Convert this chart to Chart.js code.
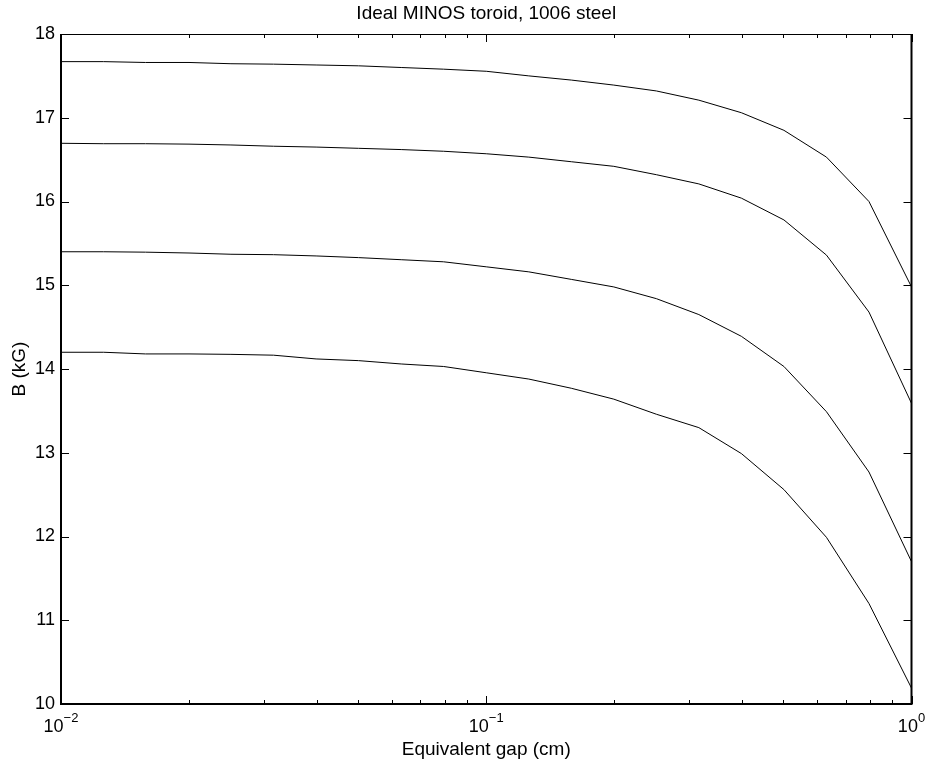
<!DOCTYPE html>
<html>
<head>
<meta charset="utf-8">
<title>Ideal MINOS toroid, 1006 steel</title>
<script src="https://cdn.jsdelivr.net/npm/chart.js@4.4.1/dist/chart.umd.min.js"></script>
<style>
  html, body { margin: 0; padding: 0; background: #fff; }
</style>
</head>
<body>
<canvas id="chart" width="927" height="763"></canvas>
<script>
/* ======================
   DATA
====================== */
const gap = [0.01, 0.0126, 0.0158, 0.02, 0.0251, 0.0316, 0.0398, 0.0501, 0.0631, 0.0794,
  0.1, 0.1259, 0.1585, 0.1995, 0.2512, 0.3162, 0.3981, 0.5012, 0.631, 0.7943, 1];

const curve1 = [17.67, 17.67, 17.66, 17.66, 17.645, 17.64, 17.63, 17.62, 17.6, 17.58,
  17.555, 17.5, 17.45, 17.39, 17.32, 17.21, 17.06, 16.85, 16.53, 16.0, 14.98];
const curve2 = [16.695, 16.69, 16.69, 16.685, 16.675, 16.66, 16.65, 16.635, 16.62, 16.6,
  16.57, 16.53, 16.475, 16.42, 16.32, 16.21, 16.04, 15.78, 15.36, 14.68, 13.59];
const curve3 = [15.4, 15.4, 15.395, 15.385, 15.37, 15.365, 15.35, 15.33, 15.305, 15.28,
  15.22, 15.16, 15.07, 14.98, 14.84, 14.65, 14.39, 14.03, 13.49, 12.77, 11.7];
const curve4 = [14.2, 14.2, 14.18, 14.18, 14.175, 14.165, 14.12, 14.1, 14.06, 14.03,
  13.955, 13.88, 13.77, 13.64, 13.46, 13.3, 12.99, 12.56, 11.99, 11.2, 10.19];

const yTicks = [10, 11, 12, 13, 14, 15, 16, 17, 18];
const xMajorTicks = [0.01, 0.1, 1];
const xTickBase = ["10", "10", "10"];
const xTickExp = ["\u22122", "\u22121", "0"];
const xMinorTicks = [0.02, 0.03, 0.04, 0.05, 0.06, 0.07, 0.08, 0.09,
  0.2, 0.3, 0.4, 0.5, 0.6, 0.7, 0.8, 0.9];

const FONT = "'Liberation Sans', Arial, Helvetica, sans-serif";

function toPoints(values) {
  return gap.map((g, i) => ({ x: g, y: values[i] }));
}

function lineSet(values) {
  return {
    data: toPoints(values),
    borderColor: "#000",
    borderWidth: 1,
    pointRadius: 0,
    fill: false,
    tension: 0,
  };
}

/* ======================
   MATLAB STYLE AXES
====================== */
const matlabAxes = {
  id: "matlabAxes",
  afterDraw(chart) {
    const { ctx, chartArea: a, scales } = chart;
    const x = scales.x;
    const y = scales.y;
    ctx.save();
    ctx.strokeStyle = "#000";
    ctx.lineWidth = 1;

    // ticks pointing inwards, on all four sides
    ctx.beginPath();
    yTicks.forEach((v) => {
      const py = Math.round(y.getPixelForValue(v)) + 0.5;
      ctx.moveTo(a.left, py);
      ctx.lineTo(a.left + 8, py);
      ctx.moveTo(a.right, py);
      ctx.lineTo(a.right - 8, py);
    });
    xMajorTicks.forEach((v) => {
      const px = Math.round(x.getPixelForValue(v)) + 0.5;
      ctx.moveTo(px, a.bottom);
      ctx.lineTo(px, a.bottom - 8);
      ctx.moveTo(px, a.top);
      ctx.lineTo(px, a.top + 8);
    });
    xMinorTicks.forEach((v) => {
      const px = Math.round(x.getPixelForValue(v)) + 0.5;
      ctx.moveTo(px, a.bottom);
      ctx.lineTo(px, a.bottom - 4);
      ctx.moveTo(px, a.top);
      ctx.lineTo(px, a.top + 4);
    });
    ctx.stroke();

    // box
    ctx.lineWidth = 1;
    ctx.beginPath();
    ctx.moveTo(a.left, a.top + 0.5);
    ctx.lineTo(a.right, a.top + 0.5);
    ctx.stroke();
    ctx.lineWidth = 2;
    ctx.beginPath();
    ctx.moveTo(a.left, a.top);
    ctx.lineTo(a.left, a.bottom);
    ctx.lineTo(a.right, a.bottom);
    ctx.lineTo(a.right, a.top);
    ctx.stroke();

    // x tick labels 10^n
    ctx.fillStyle = "#000";
    ctx.textBaseline = "middle";
    ctx.textAlign = "left";
    xMajorTicks.forEach((v, i) => {
      const px = x.getPixelForValue(v);
      ctx.font = "18px " + FONT;
      const wb = ctx.measureText(xTickBase[i]).width;
      ctx.font = "13px " + FONT;
      const we = ctx.measureText(xTickExp[i]).width;
      const start = px - (wb + we) / 2;
      ctx.font = "18px " + FONT;
      ctx.fillText(xTickBase[i], start, a.bottom + 23);
      ctx.font = "13px " + FONT;
      ctx.fillText(xTickExp[i], start + wb, a.bottom + 14);
    });
    ctx.restore();
  },
};

/* ======================
   CHART
====================== */
Chart.defaults.font.family = FONT;
Chart.defaults.color = "#000";

new Chart(document.getElementById("chart"), {
  type: "line",
  data: {
    datasets: [lineSet(curve1), lineSet(curve2), lineSet(curve3), lineSet(curve4)],
  },
  options: {
    responsive: false,
    animation: false,
    devicePixelRatio: 1,
    layout: { padding: { left: 0, right: 15.5, top: 0, bottom: 0 } },
    plugins: {
      legend: { display: false },
      tooltip: { enabled: false },
      title: {
        display: true,
        fullSize: false,
        text: "Ideal MINOS toroid, 1006 steel",
        color: "#000",
        font: { size: 19, weight: "normal" },
        padding: { top: 2, bottom: 9.2 },
      },
    },
    scales: {
      x: {
        type: "logarithmic",
        min: 0.01,
        max: 1,
        grid: { display: false },
        border: { display: false },
        ticks: { display: false },
        title: {
          display: true,
          text: "Equivalent gap (cm)",
          font: { size: 19 },
          padding: { top: 0, bottom: 2.1 },
        },
        afterFit(scale) {
          scale.height = 59;
        },
      },
      y: {
        min: 10,
        max: 18,
        grid: { display: false, drawTicks: false },
        border: { display: false },
        ticks: { stepSize: 1, padding: 6, font: { size: 18 }, color: "#000" },
        afterBuildTicks(scale) {
          scale.ticks = yTicks.map((v) => ({ value: v }));
        },
        title: {
          display: true,
          text: "B (kG)",
          font: { size: 19 },
          padding: { top: 8.6, bottom: 0 },
        },
        afterFit(scale) {
          scale.width = 61;
        },
      },
    },
  },
  plugins: [matlabAxes],
});
</script>
</body>
</html>
